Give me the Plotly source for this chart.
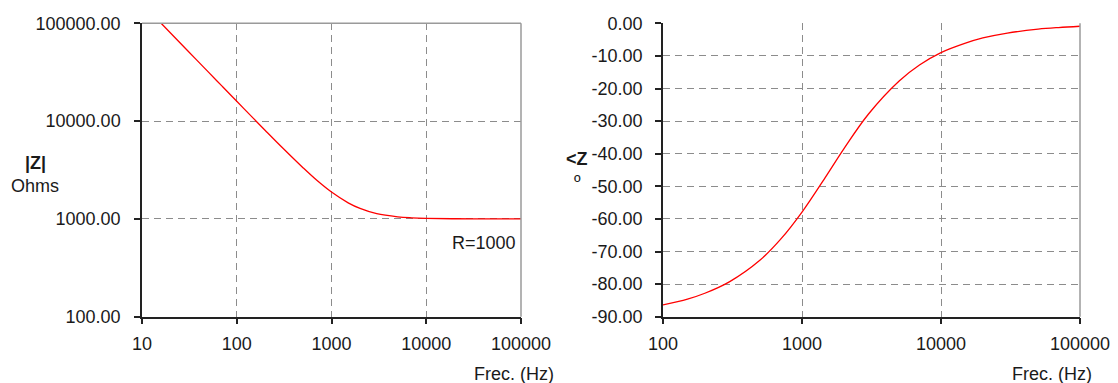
import plotly.graph_objects as go

# ---- data ----
freq_mag = [16, 20, 30, 50, 70, 100, 150, 200, 300, 500, 700, 1000, 1500, 2000,
            3000, 5000, 7000, 10000, 20000, 50000, 100000]
mag_ohms = [99480, 79580, 53060, 31850, 22760, 15950, 10660, 8020, 5400, 3340, 2480,
            1880, 1460, 1280, 1130, 1050, 1026, 1013, 1003, 1000.5, 1000.1]

freq_ph = [100, 150, 200, 300, 500, 700, 1000, 1500, 2000, 3000, 5000, 7000,
           10000, 15000, 20000, 30000, 50000, 70000, 100000]
phase_deg = [-86.4, -84.6, -82.8, -79.3, -72.6, -66.3, -57.9, -46.7, -38.5, -27.9,
             -17.7, -12.8, -9.0, -6.1, -4.5, -3.0, -1.8, -1.3, -0.9]

mag_ticks = [100, 1000, 10000, 100000]
mag_ticktext = ["100.00", "1000.00", "10000.00", "100000.00"]
freq_ticks_left = [10, 100, 1000, 10000, 100000]
freq_ticks_right = [100, 1000, 10000, 100000]
phase_ticks = [0, -10, -20, -30, -40, -50, -60, -70, -80, -90]

W, H = 1118, 383
FONT = "Liberation Sans, Arial, sans-serif"
FS = 18
TXT = "#1a1a1a"

def px(xp):
    return xp / W

def py(yp):
    return 1 - yp / H

fig = go.Figure()
fig.add_trace(go.Scatter(x=freq_mag, y=mag_ohms, mode="lines",
                         line=dict(color="#ff0000", width=1.3, shape="spline"),
                         xaxis="x", yaxis="y", showlegend=False))
fig.add_trace(go.Scatter(x=freq_ph, y=phase_deg, mode="lines",
                         line=dict(color="#ff0000", width=1.3, shape="spline"),
                         xaxis="x2", yaxis="y2", showlegend=False))

ydom = [py(316.7), py(23.3)]
common_axis = dict(showline=True, linecolor="#222222", linewidth=1.5, ticks="outside", ticklen=6,
                   tickcolor="#222222", tickwidth=1.5, automargin=False,
                   showgrid=True, gridcolor="#8c8c8c", gridwidth=1.2, griddash="7px,5px",
                   zeroline=False, tickfont=dict(family=FONT, size=FS, color=TXT))

fig.update_layout(
    template="none",
    width=W, height=H, margin=dict(l=0, r=0, t=0, b=0, pad=0),
    paper_bgcolor="white", plot_bgcolor="white", showlegend=False,
    xaxis=dict(domain=[px(142), px(521)], type="log", range=[1, 5], tickvals=freq_ticks_left,
               ticktext=[str(v) for v in freq_ticks_left], anchor="y", ticklabelstandoff=4, **common_axis),
    yaxis=dict(domain=ydom, type="log", range=[2, 5], tickvals=mag_ticks, ticktext=mag_ticktext,
               anchor="x", ticklabelstandoff=10, **common_axis),
    xaxis2=dict(domain=[px(663), px(1080)], type="log", range=[2, 5], tickvals=freq_ticks_right,
                ticktext=[str(v) for v in freq_ticks_right], anchor="y2", ticklabelstandoff=4, **common_axis),
    yaxis2=dict(domain=ydom, range=[-90, 0], tickvals=phase_ticks,
                ticktext=[f"{v:.2f}" for v in phase_ticks], anchor="x2", ticklabelstandoff=9, **common_axis),
    # top axis of the phase chart (line at 0 with inside tick marks)
    xaxis3=dict(domain=[px(663), px(1080)], type="log", range=[2, 5], tickvals=freq_ticks_right,
                overlaying="x2", anchor="y2", side="top", showticklabels=False, showgrid=False,
                showline=True, linecolor="#333333", linewidth=1.5, ticks="inside", ticklen=6,
                tickcolor="#222222", tickwidth=1.5, automargin=False, zeroline=False),
)

# gray frame edges (top of magnitude chart, right of both charts)
fig.add_shape(type="line", xref="x domain", yref="y domain", x0=0, x1=1, y0=1, y1=1,
              line=dict(color="#9a9a9a", width=1.5))
for xr, yr in [("x domain", "y domain"), ("x2 domain", "y2 domain")]:
    fig.add_shape(type="line", xref=xr, yref=yr, x0=1, x1=1, y0=0, y1=1,
                  line=dict(color="#9a9a9a", width=1.5))

ann = [
    dict(text="<b>|Z|</b>", x=px(35), y=py(163)),
    dict(text="Ohms", x=px(35), y=py(186)),
    dict(text="<b><Z</b>", x=px(577), y=py(159)),
    dict(text="º", x=px(577), y=py(182)),
]
for a in ann:
    fig.add_annotation(xref="paper", yref="paper", showarrow=False, xanchor="center", yanchor="middle",
                       font=dict(family=FONT, size=FS, color=TXT), **a)

fig.add_annotation(text="R=1000", xref="paper", yref="paper", x=px(518), y=py(243), xanchor="right",
                   yanchor="middle", showarrow=False, font=dict(family=FONT, size=FS, color=TXT))
fig.add_annotation(text="Frec. (Hz)", xref="paper", yref="paper", x=px(556), y=py(374), xanchor="right",
                   yanchor="middle", showarrow=False, font=dict(family=FONT, size=FS, color=TXT))
fig.add_annotation(text="Frec. (Hz)", xref="paper", yref="paper", x=px(1094), y=py(374), xanchor="right",
                   yanchor="middle", showarrow=False, font=dict(family=FONT, size=FS, color=TXT))

fig.write_html("out.html")
